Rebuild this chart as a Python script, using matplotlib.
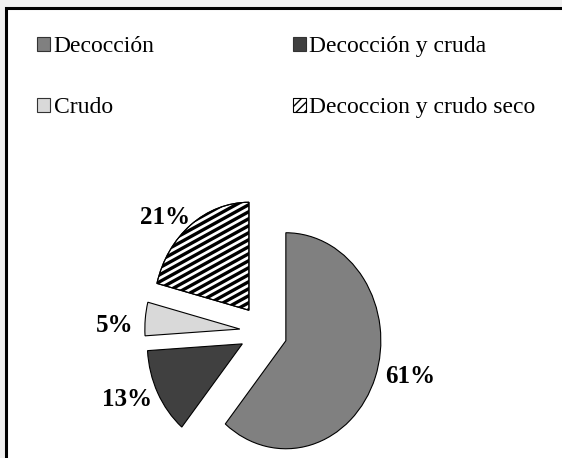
import numpy as np
import matplotlib
matplotlib.use("Agg")
import matplotlib.pyplot as plt
from matplotlib.patches import Rectangle, Patch, PathPatch
from matplotlib.collections import LineCollection

plt.rcParams['font.family'] = ['Liberation Serif', 'DejaVu Serif']

## data
categories = ['Decocción', 'Decocción y cruda', 'Crudo', 'Decoccion y crudo seco']
values = [61, 13, 5, 21]
colors = ['#808080', '#404040', '#d9d9d9', 'white']

W, H = 562, 458
fig = plt.figure(figsize=(W / 100, H / 100), dpi=100, facecolor='#f0f0f0')

# white frame, cut on right and bottom
frame = Rectangle((5.5 / W, -0.05), 1.1, (H - 8.5) / H + 0.05, transform=fig.transFigure,
                  facecolor='white', edgecolor='black', linewidth=2.2, zorder=-1)
fig.patches.append(frame)

# pie axes: centre at (263.5, 331.6) px, radius 95 px horizontally, 108 px vertically
cx, cy, rx, ry = 263.5, 331.6, 95, 108
xl, yl = 2.0, 1.4
ax = fig.add_axes([(cx - xl * rx) / W, (H - cy - yl * ry) / H, 2 * xl * rx / W, 2 * yl * ry / H])
ax.patch.set_alpha(0)

wedges, _ = ax.pie(values, colors=colors, startangle=90, counterclock=False,
                   explode=[0.25] * len(values),
                   wedgeprops={'edgecolor': 'black', 'linewidth': 0.8})
ax.set_aspect('auto')
ax.set_xlim(-xl, xl)
ax.set_ylim(-yl, yl)
ax.axis('off')

# black/white diagonal stripes on the last wedge
hw = wedges[3]
stripe_step = 7 / ry  # vertical period in data units
slope = 0.55 * rx / ry
segs = [[(-3, b - 3 * slope), (3, b + 3 * slope)] for b in np.arange(-4, 4, stripe_step)]
lc = LineCollection(segs, colors='black', linewidths=2.4, zorder=hw.get_zorder() + 0.1)
ax.add_collection(lc)
lc.set_clip_path(hw)
# outline over the stripes
ax.add_patch(PathPatch(hw.get_path(), transform=hw.get_transform(), fill=False,
                       edgecolor='black', linewidth=0.8, zorder=hw.get_zorder() + 0.2))

# percentage labels
label_pos = [(1.542, -0.42), (-1.437, -0.633), (-1.563, 0.052), (-1.037, 1.061)]
for v, (lx, ly) in zip(values, label_pos):
    ax.text(lx, ly, f'{v}%', ha='center', va='center', fontsize=18, fontweight='bold')

# legend
handles = [Patch(facecolor=c, edgecolor='#333333', linewidth=0.8) for c in colors[:3]]
handles.append(Patch(facecolor='white', edgecolor='black', hatch='////', linewidth=0.8))
order = [0, 2, 1, 3]
leg = fig.legend([handles[i] for i in order], [categories[i] for i in order],
                 ncol=2, loc='upper left', bbox_to_anchor=(37 / W, 1 - 36 / H),
                 frameon=False, fontsize=17, handlelength=0.55, handleheight=0.55,
                 handletextpad=0.15, columnspacing=5.85, labelspacing=1.7,
                 borderpad=0, borderaxespad=0)

fig.savefig('out.png', dpi=100, facecolor=fig.get_facecolor())
